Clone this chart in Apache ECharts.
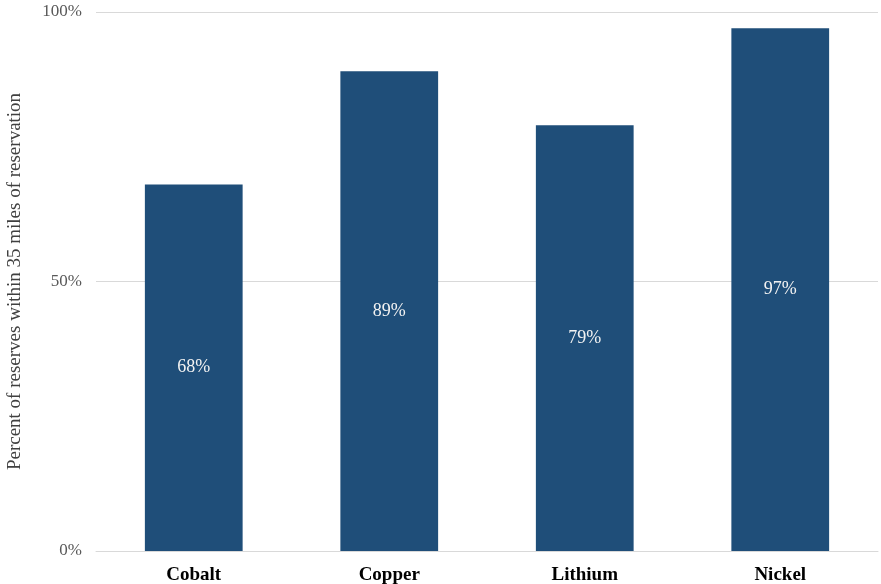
<!DOCTYPE html>
<html><head><meta charset="utf-8">
<script src="https://cdn.jsdelivr.net/npm/echarts@6/dist/echarts.min.js"></script>
<style>html,body{margin:0;padding:0;background:#fff}#c{width:881px;height:584px}</style>
</head><body><div id="c"></div>
<script>
const categories = ['Cobalt', 'Copper', 'Lithium', 'Nickel'];
const values = [68, 89, 79, 97];
const yTicks = [0, 50, 100];
const chart = echarts.init(document.getElementById('c'));
chart.setOption({
  animation: false,
  grid: {left: 96, right: 3, top: 12, bottom: 33, outerBoundsMode: 'none', containLabel: false},
  xAxis: {
    type: 'category', data: categories,
    axisLine: {show: true, lineStyle: {color: '#d9d9d9'}},
    axisTick: {show: false},
    axisLabel: {fontFamily: 'Liberation Serif', fontSize: 19, fontWeight: 'bold', color: '#000', margin: 15}
  },
  yAxis: {
    type: 'value', min: 0, max: 100, interval: 50,
    name: 'Percent of reserves within 35 miles of reservation',
    nameLocation: 'middle', nameGap: 71,
    nameTextStyle: {fontFamily: 'Liberation Serif', fontSize: 19, color: '#404040'},
    axisLine: {show: false}, axisTick: {show: false},
    axisLabel: {fontFamily: 'Liberation Serif', fontSize: 17, color: '#595959', margin: 14,
      padding: [4, 0, 0, 0],
      formatter: v => yTicks.includes(v) ? v + '%' : ''},
    splitLine: {lineStyle: {color: '#d9d9d9'}}
  },
  series: [{
    type: 'bar', data: values, barWidth: '50%',
    itemStyle: {color: '#1f4e79'},
    label: {show: true, position: 'inside', formatter: '{c}%', fontFamily: 'Liberation Serif', fontSize: 18, color: '#f2f2f2', padding: [4, 0, 0, 0]}
  }]
});
</script></body></html>
